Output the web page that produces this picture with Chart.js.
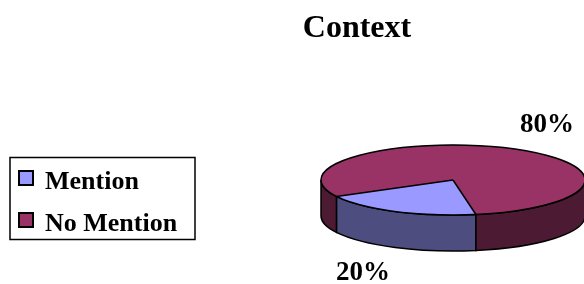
<!DOCTYPE html>
<html>
<head>
<meta charset="utf-8">
<script src="https://cdn.jsdelivr.net/npm/chart.js@4"></script>
<style>
  html, body { margin: 0; padding: 0; background: #fff; }
  canvas { display: block; }
</style>
</head>
<body>
<canvas id="c" width="584" height="284"></canvas>
<script>
const titleText = 'Context';
const labels = ['Mention', 'No Mention'];
const values = [20, 80];
const topColors = ['#9999FF', '#993366'];
const sideColors = ['#4D4D80', '#4D1A33'];

// 3D geometry of the drawn pie (layout only)
const PIE = { cx: 453, cy: 180, rx: 132, ry: 35, depth: 36 };
const FONT = "'Liberation Serif', 'Times New Roman', serif";

function frontIntervals(s, e) {
  const out = [];
  for (let k = -1; k <= 2; k++) {
    const a = Math.max(s, 2 * Math.PI * k);
    const b = Math.min(e, 2 * Math.PI * k + Math.PI);
    if (b > a) out.push([a, b]);
  }
  return out;
}

const pie3d = {
  id: 'pie3d',
  beforeDatasetDraw(chart, args) {
    const ctx = chart.ctx;
    const meta = args.meta;
    const { cx, cy, rx, ry, depth } = PIE;
    // side walls
    meta.data.forEach((arc, i) => {
      const p = arc.getProps(['startAngle', 'endAngle'], true);
      frontIntervals(p.startAngle, p.endAngle).forEach(([a, b]) => {
        ctx.beginPath();
        ctx.ellipse(cx, cy, rx, ry, 0, a, b, false);
        ctx.lineTo(cx + rx * Math.cos(b), cy + depth + ry * Math.sin(b));
        ctx.ellipse(cx, cy + depth, rx, ry, 0, b, a, true);
        ctx.closePath();
        ctx.fillStyle = sideColors[i];
        ctx.fill();
        ctx.lineWidth = 1.5;
        ctx.strokeStyle = '#000';
        ctx.stroke();
      });
    });
    const a0 = meta.data[0].getProps(['x', 'y', 'outerRadius'], true);
    ctx.save();
    ctx.translate(cx, cy);
    ctx.scale(rx / a0.outerRadius, ry / a0.outerRadius);
    ctx.translate(-a0.x, -a0.y);
  },
  afterDatasetDraw(chart, args) {
    const ctx = chart.ctx;
    ctx.restore();
    const meta = args.meta;
    const { cx, cy, rx, ry, depth } = PIE;
    ctx.lineWidth = 1.5;
    ctx.strokeStyle = '#000';
    ctx.beginPath();
    ctx.ellipse(cx, cy, rx, ry, 0, 0, Math.PI * 2);
    ctx.stroke();
    meta.data.forEach((arc) => {
      const p = arc.getProps(['startAngle'], true);
      ctx.beginPath();
      ctx.moveTo(cx, cy);
      ctx.lineTo(cx + rx * Math.cos(p.startAngle), cy + ry * Math.sin(p.startAngle));
      ctx.stroke();
    });
    // percentage labels
    const total = values.reduce((s, v) => s + v, 0);
    ctx.fillStyle = '#000';
    ctx.font = 'bold 27px ' + FONT;
    ctx.textAlign = 'center';
    ctx.textBaseline = 'alphabetic';
    meta.data.forEach((arc, i) => {
      const p = arc.getProps(['startAngle', 'endAngle'], true);
      const m = (p.startAngle + p.endAngle) / 2;
      const s = Math.sin(m);
      const x = cx + 210 * Math.cos(m) + 2;
      const y = cy + 62 * s + (s > 0 ? depth : 0) + 8;
      ctx.fillText(Math.round(values[i] / total * 100) + '%', x, y);
    });
  },
  afterDraw(chart) {
    const ctx = chart.ctx;
    ctx.save();
    ctx.lineWidth = 1.5;
    ctx.strokeStyle = '#000';
    ctx.strokeRect(10, 157.5, 185, 82);
    ctx.font = 'bold 26px ' + FONT;
    ctx.textAlign = 'left';
    ctx.textBaseline = 'alphabetic';
    labels.forEach((lab, i) => {
      const y0 = 171 + i * 42;
      ctx.fillStyle = topColors[i];
      ctx.fillRect(19, y0, 14, 14);
      ctx.lineWidth = 2;
      ctx.strokeRect(19, y0, 14, 14);
      ctx.fillStyle = '#000';
      ctx.fillText(lab, 45, y0 + 18);
    });
    ctx.restore();
  }
};

new Chart(document.getElementById('c'), {
  type: 'pie',
  data: {
    labels: labels,
    datasets: [{
      data: values,
      backgroundColor: topColors,
      borderWidth: 0,
      clip: false
    }]
  },
  options: {
    responsive: false,
    animation: false,
    devicePixelRatio: 1,
    rotation: 170,
    layout: { padding: { left: 130, right: 0, top: 0, bottom: 0 } },
    plugins: {
      legend: { display: false },
      tooltip: { enabled: false },
      title: {
        display: true,
        text: titleText,
        color: '#000',
        font: { family: FONT, size: 32, weight: 'bold' },
        padding: { top: 10, bottom: 10 }
      }
    }
  },
  plugins: [pie3d, {
    id: 'bg',
    beforeDraw(chart) {
      const ctx = chart.ctx;
      ctx.save();
      ctx.fillStyle = '#fff';
      ctx.fillRect(0, 0, chart.width, chart.height);
      ctx.restore();
    }
  }]
});
</script>
</body>
</html>
